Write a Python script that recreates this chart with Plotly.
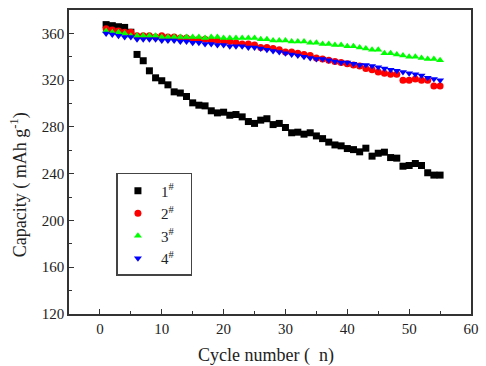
import plotly.graph_objects as go

cycles = list(range(1, 56))

s1 = [367.5, 366.6, 365.7, 365.1, 361, 342, 336.6, 328, 322, 319.5,
      316, 310, 309, 306, 300.6, 298.6, 298, 293.8, 292, 292.6,
      290, 290.6, 288.6, 284.6, 283, 285.8, 287, 282, 283, 279.5,
      275, 275.5, 273.8, 275, 272.3, 270, 267, 264.6, 263.8, 261.5,
      260.6, 258.7, 261.8, 255, 257.5, 258.4, 253.8, 253.3, 246.4, 247,
      248.7, 247, 240.8, 238.8, 238.8]

s2 = [364, 363, 362, 361, 361, 358, 358, 358, 357, 358,
      357, 357, 356, 356, 355, 355, 355, 354, 354, 353,
      353, 352, 351, 351, 350, 348, 348, 347, 346, 344,
      344, 343, 342, 341, 339, 338, 337, 336, 335, 334,
      333, 332, 330, 329, 327, 326, 325, 325, 320, 320,
      321, 320, 320, 315, 315]

s3 = [362, 361, 361, 360, 358, 358, 358, 358, 358, 357,
      357, 357, 357, 357, 357, 357, 356, 357, 357, 356,
      356, 356, 356, 356, 356, 355, 355, 354, 354, 354,
      353, 353, 353, 352, 352, 351, 351, 350, 350, 349,
      349, 348, 347, 346, 346, 343, 343, 342, 341, 340,
      340, 339, 338, 338, 337]

s4 = [360, 359, 358, 357, 357, 355, 355, 355, 355, 354,
      354, 354, 353, 353, 352, 352, 351, 351, 350, 350,
      349, 349, 349, 348, 348, 347, 346, 345, 344, 343,
      342, 341, 340, 339, 338, 338, 337, 336, 335, 335,
      334, 333, 333, 332, 331, 330, 329, 328, 327, 326,
      325, 324, 322, 321, 320]

names = ["&#8201;1<sup>#</sup>&nbsp;&nbsp;&nbsp;",
         "&#8201;2<sup>#</sup>&nbsp;&nbsp;&nbsp;",
         "&#8201;3<sup>#</sup>&nbsp;&nbsp;&nbsp;",
         "&#8201;4<sup>#</sup>&nbsp;&nbsp;&nbsp;"]
series = [s1, s2, s3, s4]
colors = ["#000000", "#ff0000", "#00ff00", "#0000ff"]
symbols = ["square", "circle", "triangle-up", "triangle-down"]

fig = go.Figure()
for nm, s, c, sym in zip(names, series, colors, symbols):
    fig.add_trace(go.Scatter(x=cycles, y=s, mode="markers", name=nm,
                             marker=dict(symbol=sym, color=c, size=7,
                                         line=dict(width=0))))

font = "Liberation Serif"
axis_common = dict(showgrid=False, zeroline=False, showline=True,
                   linecolor="#333", linewidth=1.5, mirror=True,
                   ticks="inside", ticklen=5, tickcolor="#333",
                   tickfont=dict(family=font, size=15, color="#222"))

fig.update_layout(
    width=486, height=366,
    margin=dict(l=69, r=7, t=10, b=52),
    paper_bgcolor="white", plot_bgcolor="white",
    font=dict(family=font, color="#222"),
    xaxis=dict(range=[-5, 60], dtick=10,
               minor=dict(dtick=5, ticks="inside", ticklen=3, tickcolor="#333"),
               **axis_common),
    yaxis=dict(range=[120, 380], tickvals=[120, 160, 200, 240, 280, 320, 360],
               minor=dict(dtick=20, ticks="inside", ticklen=3, tickcolor="#333"),
               **axis_common),
    legend=dict(x=0.118, y=0.464, xanchor="left", yanchor="top",
                bordercolor="#444", borderwidth=1.5, bgcolor="white",
                font=dict(family=font, size=15), itemsizing="trace",
                tracegroupgap=0),
    showlegend=True,
    annotations=[
        dict(text="Cycle number (  n)", xref="paper", yref="paper",
             x=0.49, y=-0.135, xanchor="center", yanchor="middle",
             showarrow=False, font=dict(family=font, size=18, color="#222")),
        dict(text="Capacity ( mAh g<sup>-1</sup>)", xref="paper", yref="paper",
             x=-0.124, y=0.424, xanchor="center", yanchor="middle", textangle=-90,
             showarrow=False, font=dict(family=font, size=18, color="#222")),
    ],
)

fig.write_html("out.html")
